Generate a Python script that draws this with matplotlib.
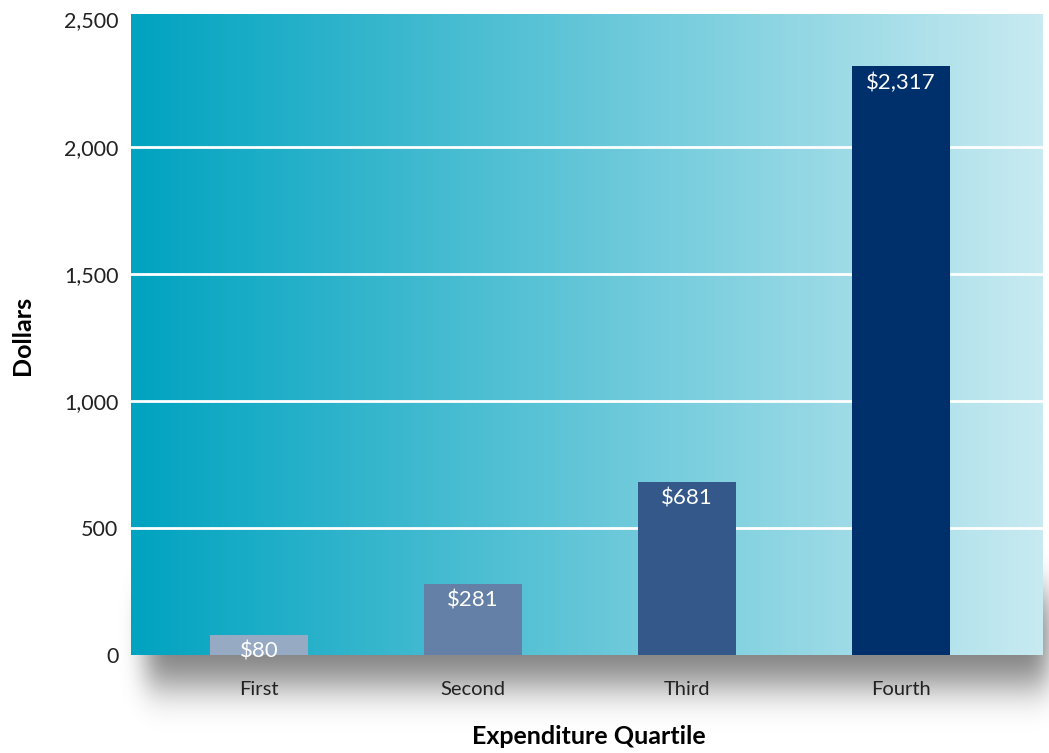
import numpy as np
import matplotlib
matplotlib.use("Agg")
import matplotlib.pyplot as plt
from matplotlib.colors import to_rgb

# data
quartiles = ["First", "Second", "Third", "Fourth"]
spending = [80, 281, 681, 2317]
bar_colors = ["#97aac4", "#6480a6", "#34588a", "#00306c"]
y_ticks = [0, 500, 1000, 1500, 2000, 2500]

plt.rcParams["font.family"] = ["Lato", "DejaVu Sans"]

W, H = 1049, 753
fig = plt.figure(figsize=(W / 100, H / 100), dpi=100)

# soft drop shadow under the plot area (figure-level background axes)
bg = fig.add_axes([0, 0, 1, 1], zorder=0)
bg.set_axis_off()
yy, xx = np.mgrid[0:H, 0:W]
mask = ((xx > 145) & (xx < 1070) & (yy > 590) & (yy < 685)).astype(float)

def blur(a, sigma, axis):
    r = int(3 * sigma)
    k = np.exp(-0.5 * (np.arange(-r, r + 1) / sigma) ** 2)
    k /= k.sum()
    return np.apply_along_axis(lambda v: np.convolve(v, k, mode="same"), axis, a)

mask = blur(blur(mask, 20, 0), 12, 1)
shadow = np.zeros((H, W, 4))
shadow[..., 3] = mask * 0.5
bg.imshow(shadow, extent=[0, W, H, 0], aspect="auto", interpolation="bilinear")
bg.set_xlim(0, W)
bg.set_ylim(H, 0)

left, right, top, bottom = 131, 1043, 14, 655
ax = fig.add_axes([left / W, 1 - bottom / H, (right - left) / W, (bottom - top) / H], zorder=1)

# horizontal gradient background
c0 = np.array(to_rgb("#00a3c0"))
c1 = np.array(to_rgb("#c8eaf1"))
t = np.linspace(0, 1, 256)
grad = (c0[None, :] * (1 - t[:, None]) + c1[None, :] * t[:, None])[None, :, :]
x_lo, x_hi, y_top = -0.598, 3.664, 2522
ax.imshow(grad, extent=[x_lo, x_hi, 0, y_top], aspect="auto", zorder=0, interpolation="bilinear")

x = np.arange(len(quartiles))
for yv in y_ticks[1:-1]:
    ax.axhline(yv, color="white", lw=2, zorder=1)
bars = ax.bar(x, spending, width=0.458, color=bar_colors, zorder=2)

for b, v in zip(bars, spending):
    ax.annotate(f"${v:,}", (b.get_x() + b.get_width() / 2, b.get_height()),
                xytext=(0, -12), textcoords="offset points", ha="center", va="center",
                color="white", fontsize=16, zorder=3)

ax.set_xlim(x_lo, x_hi)
ax.set_ylim(0, y_top)
ax.set_xticks(x)
ax.set_xticklabels(quartiles, fontsize=14.5, color="#222222")
ax.set_yticks(y_ticks)
ax.set_yticklabels([f"{v:,}" for v in y_ticks], fontsize=15.5, color="#222222")
ax.tick_params(axis="x", length=0, pad=19)
ax.tick_params(axis="y", length=0, pad=9)
for s in ax.spines.values():
    s.set_visible(False)

fig.text(22 / W, 1 - 335 / H, "Dollars", rotation=90, ha="center", va="center",
         fontsize=18, fontweight="bold")
fig.text(589 / W, 1 - 737 / H, "Expenditure Quartile", ha="center", va="center",
         fontsize=18, fontweight="bold")

fig.savefig("out.png", dpi=100)
